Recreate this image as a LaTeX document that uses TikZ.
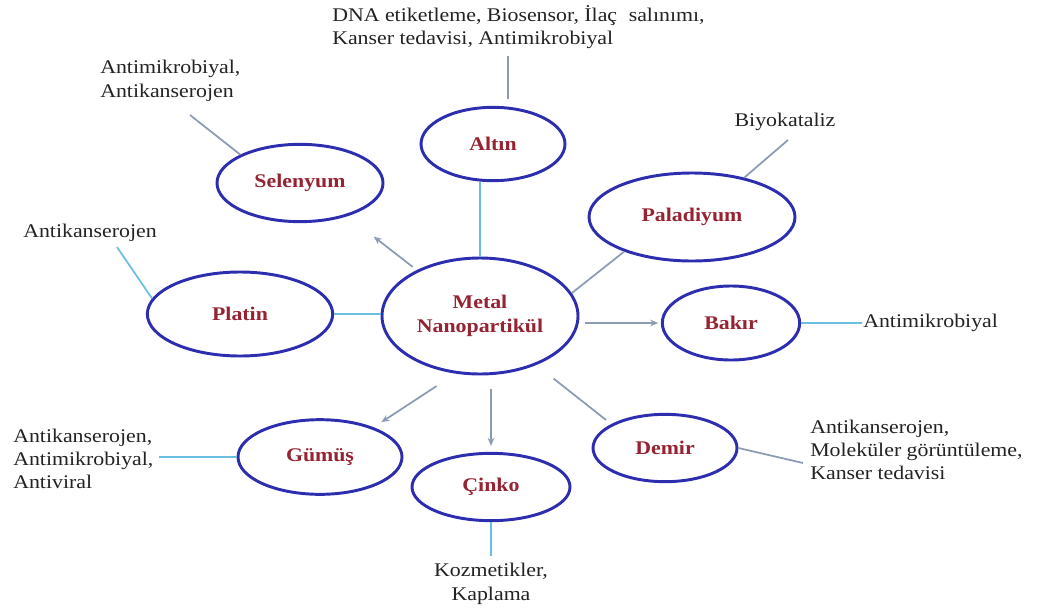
\documentclass[tikz,border=0pt]{standalone}
\usepackage{fontspec}
\setmainfont{Liberation Serif}[FakeStretch=1.13]
\usetikzlibrary{shapes.geometric,arrows.meta}
\definecolor{elblue}{RGB}{45,45,175}
\definecolor{lblred}{RGB}{150,35,50}
\definecolor{cyanl}{RGB}{105,190,225}
\definecolor{grayl}{RGB}{140,155,180}
\definecolor{txt}{RGB}{35,35,35}
\begin{document}
\begin{tikzpicture}[x=0.75pt,y=-0.75pt,
  el/.style={ellipse,draw=elblue,line width=2.2pt,inner sep=0pt,
    font=\fontsize{14.5}{18}\selectfont\bfseries,text=lblred,align=center},
  lab/.style={inner sep=0pt,font=\fontsize{14.5}{17.5}\selectfont,text=txt,align=left},
  cl/.style={draw=cyanl,line width=1.3pt},
  gl/.style={draw=grayl,line width=1.3pt},
  ar/.style={gl,-{Stealth[length=6pt,width=5pt]}}]
\useasboundingbox (0,0) rectangle (1045,607);
\fill[white] (0,0) rectangle (1045,607);

% ellipses
\node[el,minimum width=147pt,minimum height=87pt] (m) at (480,316) {Metal\\Nanopartikül};
\node[el,minimum width=108pt,minimum height=55pt] (a) at (493,144) {Altın};
\node[el,minimum width=124.5pt,minimum height=58pt] (s) at (300,183) {Selenyum};
\node[el,minimum width=154.5pt,minimum height=66pt] (p) at (692,217) {Paladiyum};
\node[el,minimum width=103pt,minimum height=55.5pt] (bk) at (731,323) {Bakır};
\node[el,minimum width=139pt,minimum height=63pt] (pl) at (240,314) {Platin};
\node[el,minimum width=123pt,minimum height=56pt] (g) at (320,457) {Gümüş};
\node[el,minimum width=118.5pt,minimum height=50.5pt] (c) at (491,487) {Çinko};
\node[el,minimum width=108pt,minimum height=50.5pt] (d) at (665,448) {Demir};

% texts
\node[lab,anchor=west] (ta) at (332,27) {DNA etiketleme, Biosensor, İlaç\hspace{0.6em}salınımı,\\Kanser tedavisi, Antimikrobiyal};
\node[lab,anchor=west] (ts) at (100,81) {Antimikrobiyal,\\Antikanserojen};
\node[lab] (tp) at (785,122) {Biyokataliz};
\node[lab,anchor=west] (tpl) at (23,233) {Antikanserojen};
\node[lab,anchor=west] (tbk) at (863,323) {Antimikrobiyal};
\node[lab,anchor=west] (tg) at (13,459) {Antikanserojen,\\Antimikrobiyal,\\Antiviral};
\node[lab,align=center,anchor=north] (tc) at (491,563) {Kozmetikler,\\Kaplama};
\node[lab,anchor=west] (td) at (810,450) {Antikanserojen,\\Moleküler görüntüleme,\\Kanser tedavisi};

% free ends
\coordinate (ta1) at (508,56);
\coordinate (ts1) at (190,115);
\coordinate (tp1) at (788,140);
\coordinate (tpl1) at (117,247);
\coordinate (td1) at (803,463);

% center connectors
\draw[cl] (m.north) -- (m.north |- a.south);
\draw[ar,shorten <=4pt,shorten >=25pt] (m.144.5) -- (s.-35);
\draw[gl] (m.14) -- (p.207);
\draw[ar,shorten <=4.5pt,shorten >=2pt] (m.east |- bk.west) -- (bk.west);
\draw[cl] (pl.east) -- (pl.east -| m.west);
\draw[ar,shorten <=17pt,shorten >=7pt] (m.247.7) -- (g.29);
\draw[ar,shorten <=10pt,shorten >=4.5pt] (m.south -| c.north) -- (c.north);
\draw[gl,shorten <=16.5pt,shorten >=5pt] (m.-41.6) -- (d.156.5);

% text connectors
\draw[gl,shorten >=5pt] (ta1) -- (ta1 |- a.north);
\draw[gl] (ts1) -- (s.north west);
\draw[gl] (p.37) -- (tp1);
\draw[cl,shorten >=1pt] (bk.east) -- (tbk.west);
\draw[cl] (tpl1) -- (pl.170);
\draw[cl,shorten <=4pt] (tg.east |- g.west) -- (g.west);
\draw[cl,shorten >=5pt] (c.south) -- (c.south |- tc.north);
\draw[gl] (d.east) -- (td1);
\end{tikzpicture}
\end{document}
